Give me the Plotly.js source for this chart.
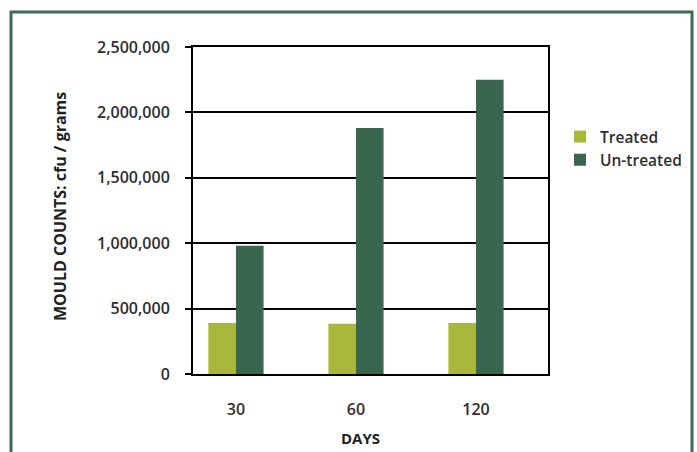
<!DOCTYPE html>
<html>
<head>
<meta charset="utf-8">
<script src="https://cdn.plot.ly/plotly-3.0.1.min.js"></script>
<style>
html,body{margin:0;padding:0;background:#fff;}
#chart{width:697px;height:452px;}
</style>
</head>
<body>
<div id="chart"></div>
<script>
const days = ["30", "60", "120"];
const treated = [390000, 385000, 390000];
const untreated = [980000, 1880000, 2250000];
const yTicks = [0, 500000, 1000000, 1500000, 2000000, 2500000];
const yTickText = ["0", "500,000", "1,000,000", "1,500,000", "2,000,000", "2,500,000"];

const L = 193, R = 548, T = 47, B = 374, W = 697, H = 452;
const px = x => (x - L) / (R - L);
const py = y => (B - y) / (B - T);

const font = "Open Sans, sans-serif";
const txt = "#2e2e2e";

const traces = [
  {type: "bar", name: "Treated", x: days, y: treated, marker: {color: "#a9b83a"}},
  {type: "bar", name: "Un-treated", x: days, y: untreated, marker: {color: "#3a6650"}}
];

const layout = {
  width: W, height: H,
  margin: {l: L, r: W - R, t: T, b: H - B, pad: 0, autoexpand: false},
  paper_bgcolor: "#fff", plot_bgcolor: "#fff",
  barmode: "group", bargap: 0.54, bargroupgap: 0,
  font: {family: font, color: txt, size: 16, weight: 600},
  showlegend: true,
  legend: {x: px(560), y: py(120), xanchor: "left", yanchor: "top",
           font: {family: font, size: 15.5, color: txt, weight: 600}, itemwidth: 30,
           tracegroupgap: 0, bgcolor: "rgba(0,0,0,0)"},
  xaxis: {
    type: "category", range: [-0.358, 2.6],
    showline: true, linecolor: "#000", linewidth: 2, mirror: true,
    showgrid: false, zeroline: false,
    ticks: "outside", ticklen: 20, tickcolor: "rgba(0,0,0,0)",
    tickfont: {family: font, size: 16, color: txt, weight: 600}
  },
  yaxis: {
    range: [0, 2500000],
    tickvals: yTicks, ticktext: yTickText,
    showline: true, linecolor: "#000", linewidth: 2, mirror: true,
    showgrid: true, gridcolor: "#000", gridwidth: 2, zeroline: false,
    ticks: "outside", ticklen: 6, tickwidth: 2, tickcolor: "#000",
    ticklabelstandoff: 12,
    tickfont: {family: font, size: 16, color: txt, weight: 600}
  },
  annotations: [
    {text: "<b>MOULD COUNTS: cfu / grams</b>", xref: "paper", yref: "paper",
     x: px(60), y: py(207), xanchor: "center", yanchor: "middle",
     textangle: -90, showarrow: false,
     font: {family: font, size: 16, color: "#222"}},
    {text: "<b>DAYS</b>", xref: "paper", yref: "paper",
     x: px(360), y: py(438), xanchor: "center", yanchor: "middle", showarrow: false,
     font: {family: font, size: 15, color: "#222"}}
  ],
  shapes: [
    {type: "path", xref: "paper", yref: "paper",
     path: `M ${px(11)} ${py(470)} L ${px(11)} ${py(12)} L ${px(692)} ${py(12)} L ${px(692)} ${py(470)}`,
     line: {color: "#3d6b55", width: 3}, layer: "below"}
  ]
};

Plotly.newPlot("chart", traces, layout, {displayModeBar: false, staticPlot: true});
</script>
</body>
</html>
